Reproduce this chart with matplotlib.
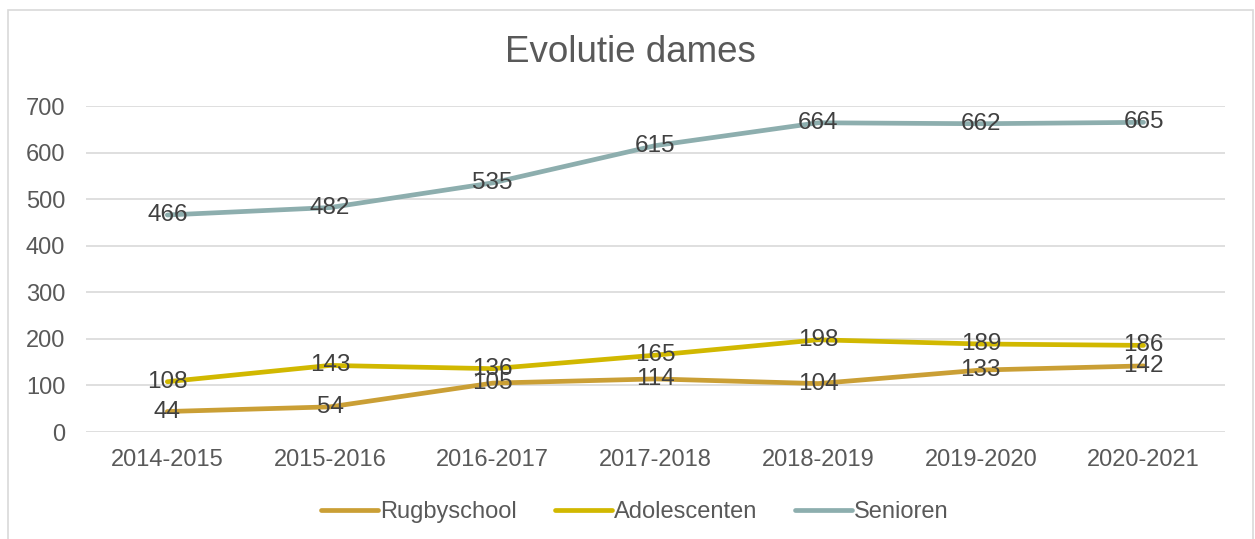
import matplotlib.pyplot as plt
from matplotlib.patches import Rectangle

plt.rcParams['font.family'] = ['Liberation Sans', 'DejaVu Sans']

seasons = ["2014-2015", "2015-2016", "2016-2017", "2017-2018",
           "2018-2019", "2019-2020", "2020-2021"]
rugbyschool = [44, 54, 105, 114, 104, 133, 142]
adolescenten = [108, 143, 136, 165, 198, 189, 186]
senioren = [466, 482, 535, 615, 664, 662, 665]

series = [("Rugbyschool", rugbyschool, "#CA9F35"),
          ("Adolescenten", adolescenten, "#D1B800"),
          ("Senioren", senioren, "#8DAEAE")]

fig = plt.figure(figsize=(12.55, 5.39), dpi=100)
ax = fig.add_axes([0.0685, 0.1985, 0.9075, 0.6048])

# outer chart border
fig.patches.append(Rectangle((8 / 1255, -0.01), 1245 / 1255, 1 - 10 / 539 + 0.01,
                             transform=fig.transFigure, fill=False,
                             edgecolor="#D9D9D9", linewidth=1.2))

x = list(range(len(seasons)))
for name, vals, col in series:
    ax.plot(x, vals, color=col, linewidth=3.4, label=name, solid_capstyle="round")
    for xi, v in zip(x, vals):
        ax.text(xi, v, str(v), ha="center", va="center", fontsize=17.5, color="#404040")

ax.set_xlim(-0.5, 6.5)
ax.set_ylim(0, 700)
ax.set_yticks(range(0, 701, 100))
ax.set_xticks(x)
ax.set_xticklabels(seasons)
ax.tick_params(axis="both", length=0, labelsize=17, colors="#595959")
ax.tick_params(axis="y", pad=15)
ax.tick_params(axis="x", pad=12)
ax.grid(axis="y", color="#D9D9D9", linewidth=1.2)
ax.set_axisbelow(True)
for s in ax.spines.values():
    s.set_visible(False)

fig.text(0.502, 0.903, "Evolutie dames", ha="center", va="center",
         fontsize=26.5, color="#595959")

fig.legend(loc="center", bbox_to_anchor=(0.506, 0.05), ncol=3, frameon=False,
           fontsize=17, labelcolor="#595959", handlelength=2.4,
           handletextpad=0.1, columnspacing=1.6)

plt.savefig("out.png", dpi=100)
